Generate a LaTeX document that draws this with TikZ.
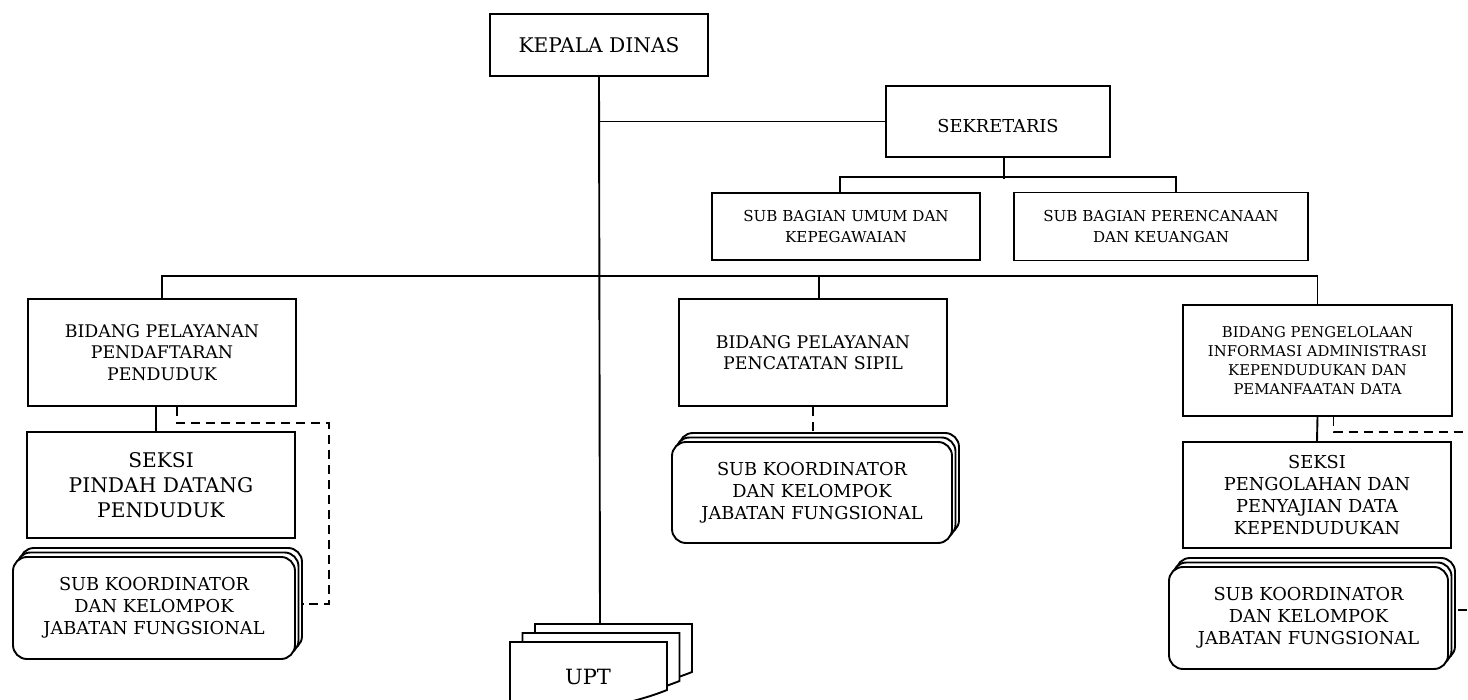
\documentclass[tikz,border=0pt]{standalone}
\usepackage{fontspec}
\setmainfont{DejaVu Serif}
\usetikzlibrary{shadows}

\begin{document}
\begin{tikzpicture}[
        x=1pt, y=-1pt,
        line width=1.9pt,
        box/.style={draw, fill=white, align=center, inner sep=0pt},
        stack/.style={box, rounded corners=14pt,
            copy shadow={shadow xshift=7pt, shadow yshift=9pt},
            copy shadow={shadow xshift=3.5pt, shadow yshift=4.5pt}},
        dashlink/.style={dash pattern=on 9pt off 6pt},
        bigfont/.style={font=\fontsize{20.2}{25}\selectfont},
        midfont/.style={font=\fontsize{17.8}{22}\selectfont},
        smallfont/.style={font=\fontsize{15.1}{20.5}\selectfont}
    ]
        \useasboundingbox (0,0) rectangle (1468,700);
        \clip (0,0) rectangle (1468,700);

        % pimpinan dan sekretariat
        \path
            (599,45)      node[box, bigfont, minimum width=218pt, minimum height=62pt] (kepala) {KEPALA DINAS}
            (998,121.5)   node[box, midfont, minimum width=224pt, minimum height=71pt, text height=23pt, text depth=0pt] (sekretaris) {SEKRETARIS}
            (846,226.5)   node[box, smallfont, minimum width=268pt, minimum height=67pt] (subumum) {SUB BAGIAN UMUM DAN\\KEPEGAWAIAN}
            (1161,226.5)  node[box, smallfont, minimum width=294pt, minimum height=68pt] (subrenkeu) {SUB BAGIAN PERENCANAAN\\DAN KEUANGAN};

        % bidang
        \path
            (162,352.5)   node[box, font=\fontsize{17.4}{21.5}\selectfont, minimum width=268pt, minimum height=107pt] (bidduk) {BIDANG PELAYANAN\\PENDAFTARAN\\PENDUDUK}
            (813,352.5)   node[box, font=\fontsize{17.4}{21.5}\selectfont, minimum width=268pt, minimum height=107pt] (bidcapil) {BIDANG PELAYANAN\\PENCATATAN SIPIL}
            (1317.5,360.5) node[box, font=\fontsize{14.8}{19}\selectfont, minimum width=269pt, minimum height=111pt] (bidpiak) {BIDANG PENGELOLAAN\\INFORMASI ADMINISTRASI\\KEPENDUDUKAN DAN\\PEMANFAATAN DATA};

        % seksi dan kelompok jabatan fungsional
        \path
            (161,485)     node[box, bigfont, minimum width=268pt, minimum height=106pt] (seksipindah) {SEKSI\\PINDAH DATANG\\PENDUDUK}
            (1317,495)    node[box, midfont, minimum width=268pt, minimum height=106pt] (seksidata) {SEKSI\\PENGOLAHAN DAN\\PENYAJIAN DATA\\KEPENDUDUKAN}
            (154,608)     node[stack, midfont, minimum width=282pt, minimum height=102pt] (subkoor1) {SUB KOORDINATOR\\DAN KELOMPOK\\JABATAN FUNGSIONAL}
            (812,492.5)   node[stack, midfont, minimum width=280pt, minimum height=101pt] (subkoor2) {SUB KOORDINATOR\\DAN KELOMPOK\\JABATAN FUNGSIONAL}
            (1308.5,618)  node[stack, midfont, minimum width=279pt, minimum height=102pt] (subkoor3) {SUB KOORDINATOR\\DAN KELOMPOK\\JABATAN FUNGSIONAL};

        % UPT (tiga lembar dokumen)
        \foreach \s in {2,1,0}
            \draw[fill=white, shift={(12.5*\s,-9*\s)}]
                (510,642) -- (667,642) -- (667,690)
                .. controls (630,705) and (560,720) .. (510,705) -- cycle;
        \node[font=\fontsize{21}{25}\selectfont] (upt) at (588,677) {UPT};
        \coordinate (uptback) at (600,624);

        % garis komando
        \draw (kepala.south) -- (uptback);
        \draw (kepala.south |- sekretaris.west) -- (sekretaris.west);
        \draw ([xshift=6pt]sekretaris.south) -- ++(0,21);
        \draw ([xshift=-6pt]subumum.north) -- ++(0,-15) -| ([xshift=15pt]subrenkeu.north);
        \draw (bidduk.north) -- ++(0,-22) -| (bidpiak.north);
        \draw ([xshift=6pt]bidcapil.north) -- ++(0,-22);
        \draw ([xshift=-6pt]bidduk.south) -- ++(0,26);
        \draw (bidpiak.south) -- (seksidata.north);

        % garis koordinasi
        \draw[dashlink] ([xshift=15pt]bidduk.south) -- ++(0,16) -- ++(152,0) |- ([xshift=7pt, yshift=4pt]subkoor1.east);
        \draw[dashlink] (bidcapil.south) -- ++(0,26);
        \draw[dashlink] ([xshift=16pt]bidpiak.south) -- ++(0,15) -- ++(150,0) |- ([xshift=7pt, yshift=8pt]subkoor3.east);
    \end{tikzpicture}
\end{document}
